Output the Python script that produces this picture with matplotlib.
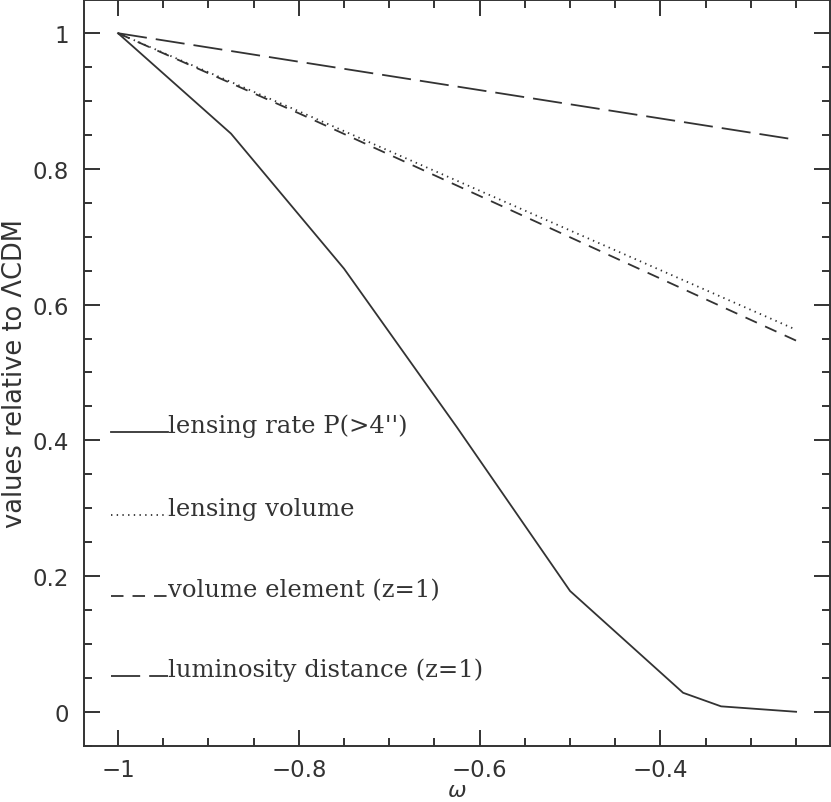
import matplotlib
matplotlib.use("Agg")
import matplotlib.pyplot as plt
from matplotlib.ticker import MultipleLocator, FuncFormatter

plt.rcParams['lines.scale_dashes'] = False

# ---- data ----
w_rate = [-1.0, -0.875, -0.75, -0.625, -0.5, -0.375, -0.333, -0.25]
lensing_rate = [1.0, 0.852, 0.653, 0.419, 0.178, 0.028, 0.008, 0.0]

w_lines = [-1.0, -0.8, -0.25]
lensing_volume = [1.0, 0.885, 0.563]
volume_element = [1.0, 0.882, 0.547]
lum_distance = [1.0, 0.958, 0.843]

legend_labels = ["lensing rate P(>4'')", "lensing volume",
                 "volume element (z=1)", "luminosity distance (z=1)"]
legend_y = [0.412, 0.290, 0.170, 0.052]

xticks_major = [-1.0, -0.8, -0.6, -0.4]
yticks_major = [0, 0.2, 0.4, 0.6, 0.8, 1.0]

# ---- styling ----
ink = '#333333'
lw = 1.3
styles = [
    dict(linestyle='-'),
    dict(linestyle=(0, (1.0, 3.1))),
    dict(linestyle=(0, (9.0, 6.5))),
    dict(linestyle=(0, (21.0, 6.5))),
]

fig = plt.figure(figsize=(8.31, 8.03), dpi=100)
ax = fig.add_axes([0.1011, 0.0701, 0.8977, 0.9287])

series = [(w_rate, lensing_rate), (w_lines, lensing_volume),
          (w_lines, volume_element), (w_lines, lum_distance)]
for (xs, ys), st in zip(series, styles):
    ax.plot(xs, ys, color=ink, lw=lw, **st)

# in-plot legend
lx0, lx1 = -1.008, -0.945
for yv, lab, st in zip(legend_y, legend_labels, styles):
    ax.plot([lx0, lx1], [yv, yv], color=ink, lw=lw, **st)
    ax.text(lx1, yv, lab, ha='left', va='baseline', fontsize=17.5,
            family='DejaVu Serif', color=ink)

ax.set_xlim(-1.0376, -0.2125)
ax.set_ylim(-0.050, 1.049)

ax.set_xticks(xticks_major)
ax.set_yticks(yticks_major)
ax.xaxis.set_minor_locator(MultipleLocator(0.05))
ax.yaxis.set_minor_locator(MultipleLocator(0.05))

def fmt(v, pos):
    s = ('%g' % round(v, 3))
    return s.replace('-', '\u2212')
ax.xaxis.set_major_formatter(FuncFormatter(fmt))
ax.yaxis.set_major_formatter(FuncFormatter(fmt))

ax.tick_params(which='both', direction='in', top=True, right=True,
               color=ink, width=1.4, labelcolor=ink, labelsize=16.5)
ax.tick_params(which='major', length=11.5)
ax.tick_params(which='minor', length=5.8)
ax.tick_params(axis='x', which='major', pad=8.5)
ax.tick_params(axis='y', which='major', pad=11)

for sp in ax.spines.values():
    sp.set_linewidth(1.4)
    sp.set_color(ink)

ax.set_xlabel(r'$\omega$', fontsize=16, color=ink, va='center')
ax.xaxis.set_label_coords(0.5, -0.060)
ax.set_ylabel('values relative to \u039bCDM', fontsize=18.5, color=ink, labelpad=3)

fig.savefig('out.png', dpi=100)
